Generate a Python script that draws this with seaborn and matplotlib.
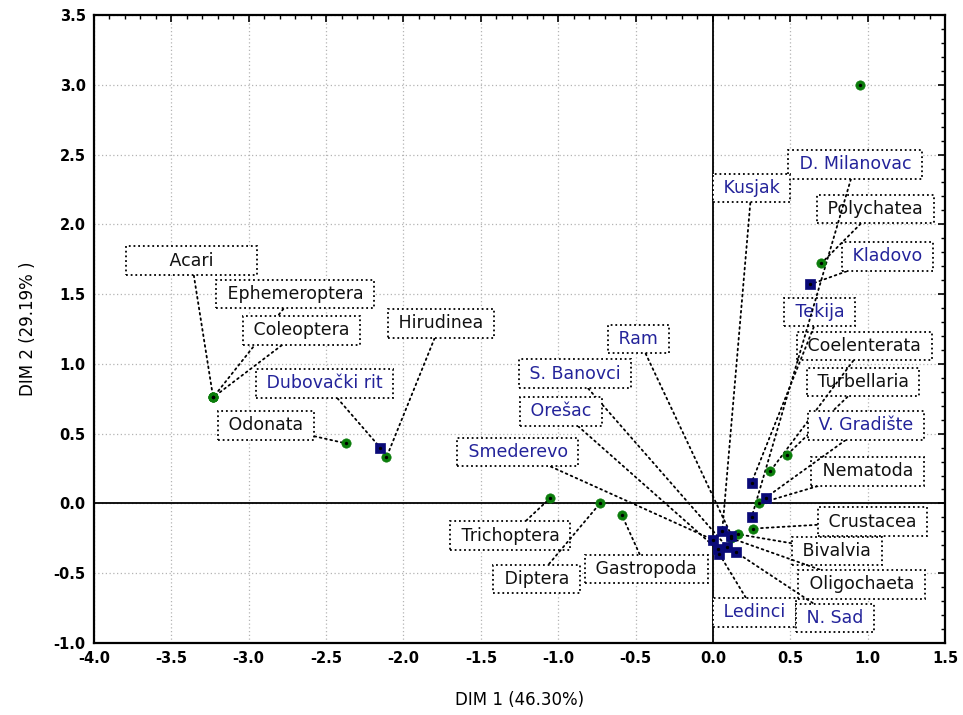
import matplotlib
matplotlib.use('Agg')
import matplotlib.pyplot as plt
from matplotlib.ticker import MultipleLocator, FormatStrFormatter
import pandas as pd
import seaborn as sns

# sites (blue squares)
site_names = ['Kladovo', 'Dubovački rit', 'Tekija', 'V. Gradište', 'D. Milanovac', 'Kusjak',
              'Ram', 'S. Banovci', 'Orešac', 'Smederevo', 'Ledinci', 'N. Sad']
site_dim1 = [0.63, -2.15, 0.25, 0.34, 0.25, 0.06, 0.12, 0.09, 0.03, 0.00, 0.04, 0.15]
site_dim2 = [1.57, 0.40, 0.15, 0.04, -0.10, -0.20, -0.23, -0.31, -0.33, -0.26, -0.36, -0.35]

# taxa (green circles)
species_names = ['Polychatea', 'Acari', 'Ephemeroptera', 'Coleoptera', 'Odonata', 'Hirudinea',
                 'Trichoptera', 'Diptera', 'Gastropoda', 'Turbellaria', 'Coelenterata',
                 'Nematoda', 'Crustacea', 'Bivalvia', 'Oligochaeta', '']
species_dim1 = [0.70, -3.23, -3.23, -3.23, -2.37, -2.11, -1.05, -0.73, -0.59,
                0.48, 0.37, 0.30, 0.26, 0.16, 0.12, 0.95]
species_dim2 = [1.72, 0.76, 0.76, 0.76, 0.43, 0.33, 0.04, 0.00, -0.08,
                0.35, 0.23, 0.00, -0.18, -0.22, -0.25, 3.00]

# where the label boxes sit (layout only)
label_xy = {
    'Acari': (-3.37, 1.74), 'Ephemeroptera': (-2.70, 1.50), 'Coleoptera': (-2.66, 1.24),
    'Hirudinea': (-1.76, 1.29), 'Dubovački rit': (-2.51, 0.86), 'Odonata': (-2.89, 0.56),
    'Ram': (-0.48, 1.18), 'S. Banovci': (-0.89, 0.93), 'Orešac': (-0.98, 0.66),
    'Smederevo': (-1.26, 0.37), 'Trichoptera': (-1.31, -0.23), 'Diptera': (-1.14, -0.54),
    'Gastropoda': (-0.43, -0.47), 'D. Milanovac': (0.92, 2.43), 'Kusjak': (0.25, 2.26),
    'Polychatea': (1.05, 2.11), 'Kladovo': (1.13, 1.77), 'Tekija': (0.69, 1.37),
    'Coelenterata': (0.98, 1.13), 'Turbellaria': (0.97, 0.87), 'V. Gradište': (0.99, 0.56),
    'Nematoda': (1.00, 0.23), 'Crustacea': (1.03, -0.13), 'Bivalvia': (0.80, -0.34),
    'Oligochaeta': (0.96, -0.58), 'Ledinci': (0.27, -0.78), 'N. Sad': (0.79, -0.82),
}
label_text = {'Acari': '      Acari      '}

sites = pd.DataFrame({'name': site_names, 'dim1': site_dim1, 'dim2': site_dim2})
taxa = pd.DataFrame({'name': species_names, 'dim1': species_dim1, 'dim2': species_dim2})

sns.set_style('white')
plt.rcParams['font.family'] = ['DejaVu Sans']
plt.rcParams['axes.unicode_minus'] = False
for key in ['text.color', 'axes.labelcolor', 'xtick.color', 'ytick.color']:
    plt.rcParams[key] = 'black'

fig = plt.figure(figsize=(9.63, 7.15), dpi=100)
ax = fig.add_axes([94 / 963, 72 / 715, 851 / 963, 628 / 715])

ax.set_xlim(-4.0, 1.5)
ax.set_ylim(-1.0, 3.5)
ax.xaxis.set_major_locator(MultipleLocator(0.5))
ax.yaxis.set_major_locator(MultipleLocator(0.5))
ax.xaxis.set_minor_locator(MultipleLocator(0.1))
ax.yaxis.set_minor_locator(MultipleLocator(0.1))
ax.xaxis.set_major_formatter(FormatStrFormatter('%.1f'))
ax.yaxis.set_major_formatter(FormatStrFormatter('%.1f'))
ax.grid(True, which='major', color='#b4b4b4', linestyle=(0, (1, 2)), linewidth=0.9)
ax.set_axisbelow(True)
ax.tick_params(which='both', direction='in', top=True, right=True, color='black')
ax.tick_params(which='major', length=5, width=1.2, labelsize=10.5, pad=6)
ax.tick_params(which='minor', length=3, width=1.0)
for lab in ax.get_xticklabels() + ax.get_yticklabels():
    lab.set_fontweight('bold')
for sp in ax.spines.values():
    sp.set_linewidth(1.6)
    sp.set_color('black')

ax.axhline(0, color='black', lw=1.3, zorder=1.5)
ax.axvline(0, color='black', lw=1.3, zorder=1.5)

sns.scatterplot(data=taxa, x='dim1', y='dim2', ax=ax, marker='o', s=45,
                color='#0b7d0b', edgecolor='#0b7d0b', linewidth=0.5, zorder=4, legend=False)
sns.scatterplot(data=sites, x='dim1', y='dim2', ax=ax, marker='s', s=55,
                color='#0a0a78', edgecolor='#0a0a78', linewidth=0.5, zorder=4, legend=False)
ax.scatter(list(taxa['dim1']) + list(sites['dim1']), list(taxa['dim2']) + list(sites['dim2']),
           s=2, color='black', zorder=5)

box = dict(boxstyle='square,pad=0.3', fc='white', ec='black',
           ls=(0, (1, 1.6)), lw=1.3)
lead = dict(arrowstyle='-', ls=(0, (1, 2)), lw=1.3, color='black', shrinkA=0, shrinkB=0)


def put_labels(df, colour):
    for _, row in df.iterrows():
        if row['name'] == '':
            continue
        ax.annotate(' ' + label_text.get(row['name'], row['name']) + ' ',
                    xy=(row['dim1'], row['dim2']), xytext=label_xy[row['name']],
                    ha='center', va='center', fontsize=12.5, color=colour,
                    bbox=box, arrowprops=lead, zorder=3)


put_labels(taxa, '#111111')
put_labels(sites, '#23239a')

ax.set_xlabel('DIM 1 (46.30%)', fontsize=12, labelpad=18)
ax.set_ylabel('DIM 2 (29.19% )', fontsize=12, labelpad=12)

fig.savefig('out.png', dpi=100)
